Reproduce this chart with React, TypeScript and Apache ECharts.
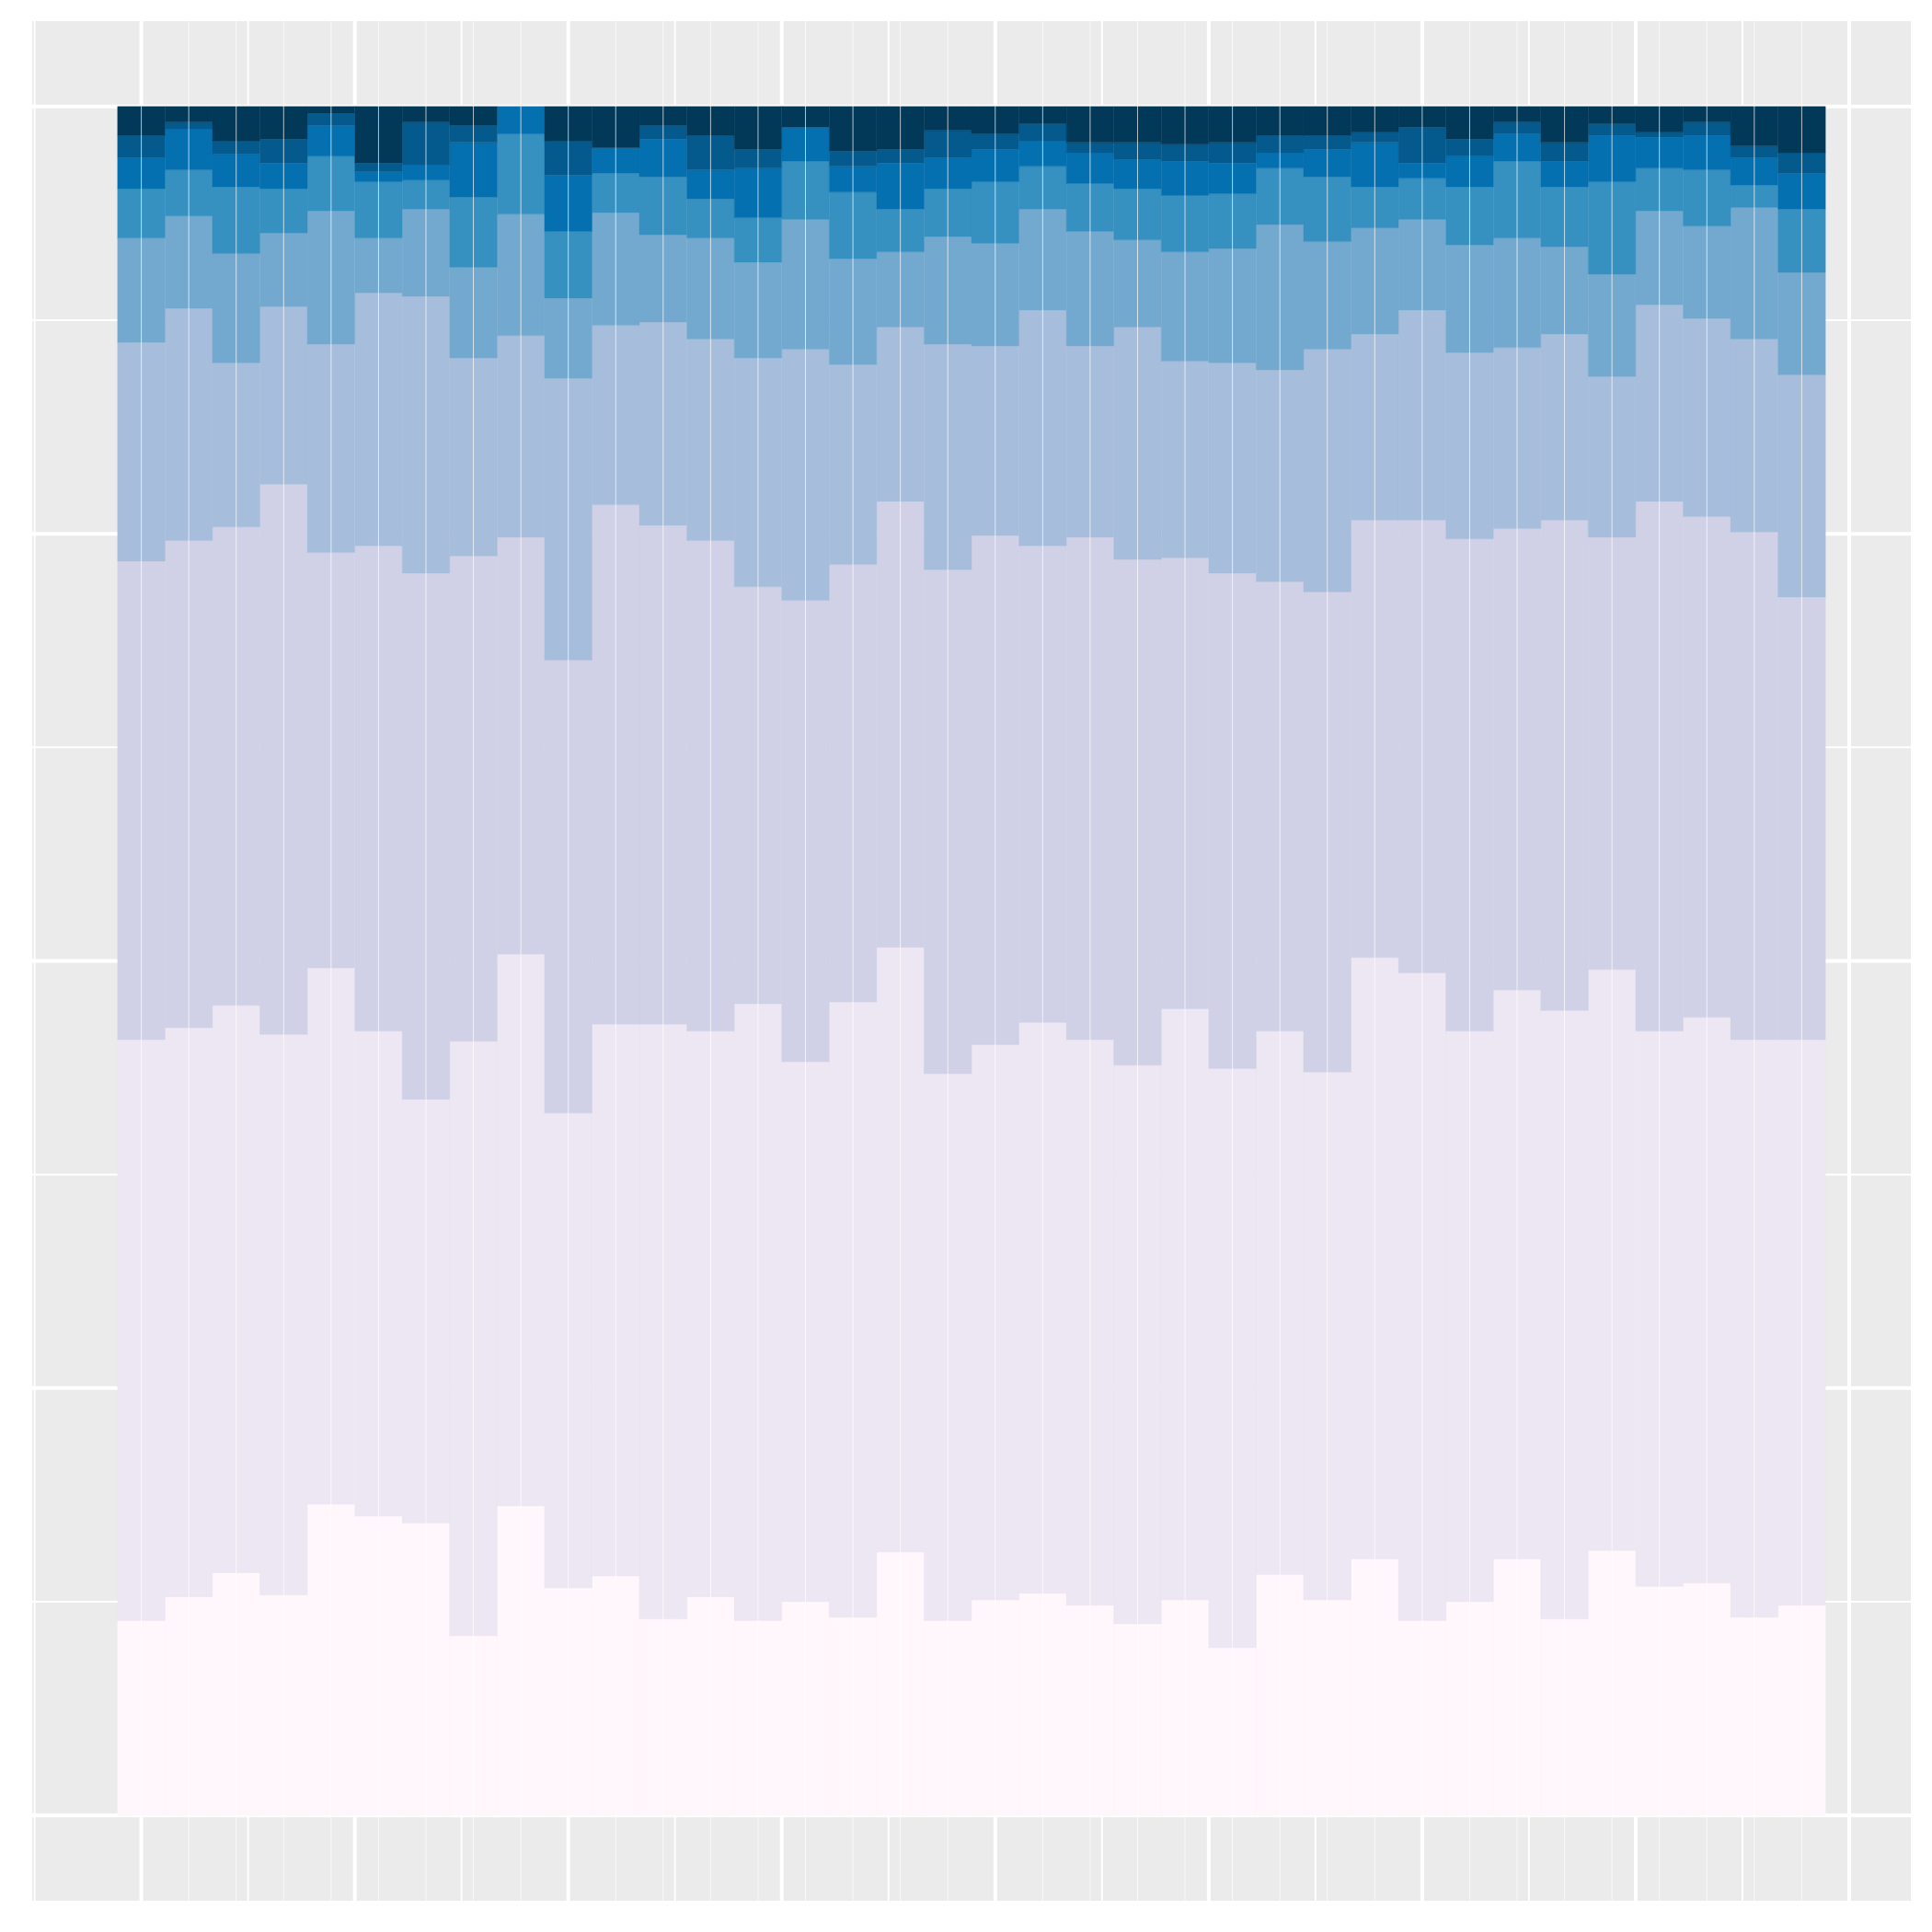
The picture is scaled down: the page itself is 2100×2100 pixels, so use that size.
import React, { useEffect, useRef } from "react";
import * as echarts from "echarts";

// 36 histogram bins, position = "fill" (shares of each bin, stacked bottom -> top)
const binIndex = [
  0, 1, 2, 3, 4, 5, 6, 7, 8, 9, 10, 11, 12, 13, 14, 15, 16, 17,
  18, 19, 20, 21, 22, 23, 24, 25, 26, 27, 28, 29, 30, 31, 32, 33, 34, 35,
];

// PuBu palette, level 1 (bottom) to level 9 (top)
const levelColors = [
  "#fff7fb", "#ece7f2", "#d0d1e6", "#a6bddb", "#74a9cf",
  "#3690c0", "#0570b0", "#045a8d", "#023858",
];

// cumulative share reached at the top of each level, per bin
const cumLevel1 = [
  0.114, 0.128, 0.142, 0.129, 0.182, 0.175, 0.171, 0.105, 0.181, 0.133, 0.140, 0.115,
  0.128, 0.114, 0.125, 0.116, 0.154, 0.114, 0.126, 0.130, 0.123, 0.112, 0.126, 0.098,
  0.141, 0.126, 0.150, 0.114, 0.125, 0.150, 0.115, 0.155, 0.134, 0.136, 0.116, 0.123,
];
const cumLevel2 = [
  0.454, 0.461, 0.474, 0.457, 0.496, 0.459, 0.419, 0.453, 0.504, 0.411, 0.463, 0.463,
  0.459, 0.475, 0.441, 0.476, 0.508, 0.434, 0.451, 0.464, 0.454, 0.439, 0.472, 0.437,
  0.459, 0.435, 0.502, 0.493, 0.459, 0.483, 0.471, 0.495, 0.459, 0.467, 0.454, 0.454,
];
const cumLevel3 = [
  0.734, 0.746, 0.754, 0.779, 0.739, 0.743, 0.727, 0.737, 0.748, 0.676, 0.767, 0.755,
  0.746, 0.719, 0.711, 0.732, 0.769, 0.729, 0.749, 0.743, 0.748, 0.735, 0.736, 0.727,
  0.722, 0.716, 0.758, 0.758, 0.747, 0.753, 0.758, 0.748, 0.769, 0.760, 0.751, 0.713,
];
const cumLevel4 = [
  0.862, 0.882, 0.850, 0.883, 0.861, 0.891, 0.889, 0.853, 0.866, 0.841, 0.872, 0.874,
  0.864, 0.853, 0.858, 0.849, 0.871, 0.861, 0.860, 0.881, 0.860, 0.871, 0.851, 0.850,
  0.846, 0.858, 0.867, 0.881, 0.856, 0.859, 0.867, 0.842, 0.884, 0.876, 0.864, 0.843,
];
const cumLevel5 = [
  0.923, 0.936, 0.914, 0.926, 0.939, 0.923, 0.940, 0.906, 0.937, 0.888, 0.938, 0.925,
  0.923, 0.909, 0.934, 0.911, 0.915, 0.924, 0.920, 0.940, 0.927, 0.922, 0.915, 0.917,
  0.931, 0.921, 0.929, 0.934, 0.919, 0.923, 0.918, 0.902, 0.939, 0.930, 0.941, 0.903,
];
const cumLevel6 = [
  0.952, 0.963, 0.953, 0.952, 0.971, 0.956, 0.957, 0.947, 0.984, 0.927, 0.961, 0.959,
  0.946, 0.935, 0.968, 0.950, 0.940, 0.952, 0.956, 0.965, 0.955, 0.952, 0.948, 0.949,
  0.964, 0.959, 0.953, 0.958, 0.953, 0.968, 0.953, 0.956, 0.964, 0.963, 0.954, 0.940,
];
const cumLevel7 = [
  0.970, 0.987, 0.972, 0.967, 0.989, 0.962, 0.966, 0.979, 1.0, 0.960, 0.976, 0.981,
  0.963, 0.964, 0.988, 0.965, 0.967, 0.970, 0.975, 0.980, 0.973, 0.969, 0.968, 0.967,
  0.973, 0.975, 0.979, 0.967, 0.971, 0.984, 0.968, 0.983, 0.982, 0.983, 0.970, 0.961,
];
const cumLevel8 = [
  0.983, 0.991, 0.980, 0.981, 0.996, 0.967, 0.991, 0.989, 1.0, 0.980, 0.976, 0.989,
  0.983, 0.975, 0.988, 0.974, 0.975, 0.986, 0.984, 0.990, 0.979, 0.979, 0.978, 0.979,
  0.983, 0.983, 0.985, 0.988, 0.981, 0.991, 0.979, 0.990, 0.985, 0.991, 0.977, 0.973,
];
const cumLevel9 = [
  1, 1, 1, 1, 1, 1, 1, 1, 1, 1, 1, 1, 1, 1, 1, 1, 1, 1,
  1, 1, 1, 1, 1, 1, 1, 1, 1, 1, 1, 1, 1, 1, 1, 1, 1, 1,
];

// axis breaks (x in bin units)
const xRange = [-1.8, 37.8];
const yRange = [-0.05, 1.05];
const majorXBreaks = [0.5, 5, 9.5, 14, 18.5, 23, 27.5, 32, 36.5];
const minorXBreaks = [-1.75, 2.75, 7.25, 11.75, 16.25, 20.75, 25.25, 29.75, 34.25];
const majorYBreaks = [0, 0.25, 0.5, 0.75, 1];
const minorYBreaks = [0.125, 0.375, 0.625, 0.875];

const cumLevels = [
  cumLevel1, cumLevel2, cumLevel3, cumLevel4, cumLevel5,
  cumLevel6, cumLevel7, cumLevel8, cumLevel9,
];

export default function App() {
  const ref = useRef<HTMLDivElement>(null);

  useEffect(() => {
    if (!ref.current) return;
    const chart = echarts.init(ref.current, undefined, { renderer: "svg" });

    const vLine = (width: number, color: string) => (params: any, api: any) => {
      const x = api.coord([api.value(0), 0])[0];
      const cs = params.coordSys;
      return {
        type: "line",
        shape: { x1: x, y1: cs.y, x2: x, y2: cs.y + cs.height },
        style: { stroke: color, lineWidth: width },
      };
    };
    const hLine = (width: number, color: string) => (params: any, api: any) => {
      const y = api.coord([0, api.value(1)])[1];
      const cs = params.coordSys;
      return {
        type: "line",
        shape: { x1: cs.x, y1: y, x2: cs.x + cs.width, y2: y },
        style: { stroke: color, lineWidth: width },
      };
    };

    const lineSeries = (name: string, data: number[][], render: any, z: number) => ({
      type: "custom",
      name,
      silent: true,
      z,
      clip: false,
      encode: { x: 0, y: 1 },
      data,
      renderItem: render,
    });

    const layerSeries = cumLevels.map((cum, k) => {
      const color = levelColors[k];
      const lower = k === 0 ? null : cumLevels[k - 1];
      return {
        type: "custom",
        name: "level" + (k + 1),
        silent: true,
        z: 5,
        encode: { x: 0, y: 2 },
        data: binIndex.map((i) => [i, lower ? lower[i] : 0, cum[i]]),
        renderItem: (params: any, api: any) => {
          const i = api.value(0);
          const lo = api.value(1);
          const hi = api.value(2);
          if (hi - lo <= 0) return { type: "group", children: [] };
          const a = api.coord([i, lo]);
          const b = api.coord([i + 1, hi]);
          return {
            type: "rect",
            shape: { x: a[0], y: b[1], width: b[0] - a[0], height: a[1] - b[1] },
            style: { fill: color, stroke: color, lineWidth: 0.4 },
          };
        },
      };
    });

    chart.setOption({
      animation: false,
      backgroundColor: "#ffffff",
      grid: {
        show: true,
        left: 35,
        top: 23,
        width: 2042,
        height: 2043,
        backgroundColor: "#ebebeb",
        borderWidth: 0,
      },
      xAxis: {
        type: "value",
        min: xRange[0],
        max: xRange[1],
        show: false,
        splitLine: { show: false },
      },
      yAxis: {
        type: "value",
        min: yRange[0],
        max: yRange[1],
        show: false,
        splitLine: { show: false },
      },
      series: [
        lineSeries("minorY", minorYBreaks.map((v) => [0, v]), hLine(2, "#ffffff"), 1),
        lineSeries("minorX", minorXBreaks.map((v) => [v, 0]), vLine(2, "#ffffff"), 1),
        lineSeries("majorY", majorYBreaks.map((v) => [0, v]), hLine(4, "#ffffff"), 2),
        lineSeries("majorX", majorXBreaks.map((v) => [v, 0]), vLine(4, "#ffffff"), 2),
        ...layerSeries,
        lineSeries(
          "binCenters",
          binIndex.map((i) => [i + 0.5, 0]),
          vLine(1, "rgba(255,255,255,0.7)"),
          10
        ),
      ],
    });

    return () => chart.dispose();
  }, []);

  return (
    <div
      ref={ref}
      style={{ position: "absolute", left: 0, top: 0, width: 2100, height: 2100, background: "#ffffff" }}
    />
  );
}
